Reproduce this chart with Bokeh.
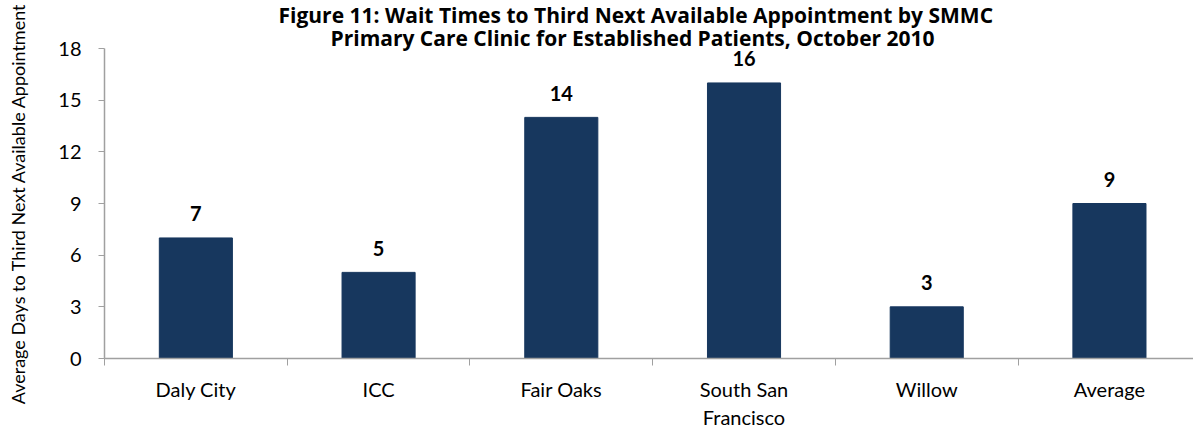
from bokeh.plotting import figure
from bokeh.models import Range1d, FixedTicker, Title, ColumnDataSource
from bokeh.core.properties import value
from bokeh.embed import file_html
from bokeh.resources import INLINE

categories = ["Daly City", "ICC", "Fair Oaks", "South San\nFrancisco", "Willow", "Average"]
wait_days = [7, 5, 14, 16, 3, 9]
y_ticks = [0, 3, 6, 9, 12, 15, 18]
title_lines = ["Figure 11: Wait Times to Third Next Available Appointment by SMMC",
               "Primary Care Clinic for Established Patients, October 2010"]
y_label = "Average Days to Third Next Available Appointment"

BAR = "#17375E"
AXIS = "#A0A0A0"
FONT = "Lato"
TFONT = "Open Sans"

xs = list(range(len(categories)))
src = ColumnDataSource(dict(x=xs, top=wait_days, lab=[str(v) for v in wait_days]))

p = figure(width=1193, height=432, output_backend="svg", toolbar_location=None,
           x_range=Range1d(-0.5, 5.46), y_range=Range1d(0, 18),
           min_border_left=104, min_border_right=0, min_border_top=48, min_border_bottom=71)
p.outline_line_color = None
p.background_fill_color = "white"
p.border_fill_color = "white"
p.xgrid.visible = False
p.ygrid.visible = False

p.vbar(x="x", top="top", width=0.4, source=src, fill_color=BAR, line_color=BAR)
p.text(x="x", y="top", text="lab", source=src, text_font=value(FONT), text_font_style="bold",
       text_font_size="20px", text_align="center", text_baseline="alphabetic",
       y_offset=-24, text_color="black")

# titles: later-added goes further from the frame
title_offsets = [174, 226]
for line, off in reversed(list(zip(title_lines, title_offsets))):
    p.add_layout(Title(text=line, align="left", offset=off, standoff=-7,
                       text_font=TFONT, text_font_style="bold", text_font_size="21px",
                       text_color="black"), "above")

# x axis
xa = p.xaxis[0]
xa.ticker = FixedTicker(ticks=xs, minor_ticks=[i - 0.5 for i in range(len(categories) + 1)])
xa.major_label_overrides = {i: c for i, c in enumerate(categories)}
xa.major_tick_line_color = None
xa.minor_tick_line_color = AXIS
xa.minor_tick_out = 7
xa.minor_tick_in = 0
xa.axis_line_color = AXIS
xa.axis_line_width = 1.5
xa.major_label_text_font = FONT
xa.major_label_text_font_size = "20px"
xa.major_label_text_color = "black"
xa.major_label_standoff = 11

# y axis
ya = p.yaxis[0]
ya.ticker = FixedTicker(ticks=y_ticks, minor_ticks=[])
ya.major_tick_line_color = AXIS
ya.major_tick_out = 6
ya.major_tick_in = 0
ya.axis_line_color = AXIS
ya.axis_line_width = 1.5
ya.major_label_text_font = FONT
ya.major_label_text_font_size = "20px"
ya.major_label_text_color = "black"
ya.major_label_standoff = 17
ya.axis_label = y_label
ya.axis_label_text_font = FONT
ya.axis_label_text_font_size = "18px"
ya.axis_label_text_font_style = "normal"
ya.axis_label_text_color = "black"
ya.axis_label_standoff = 26

open("out.html", "w").write(file_html(p, INLINE))
